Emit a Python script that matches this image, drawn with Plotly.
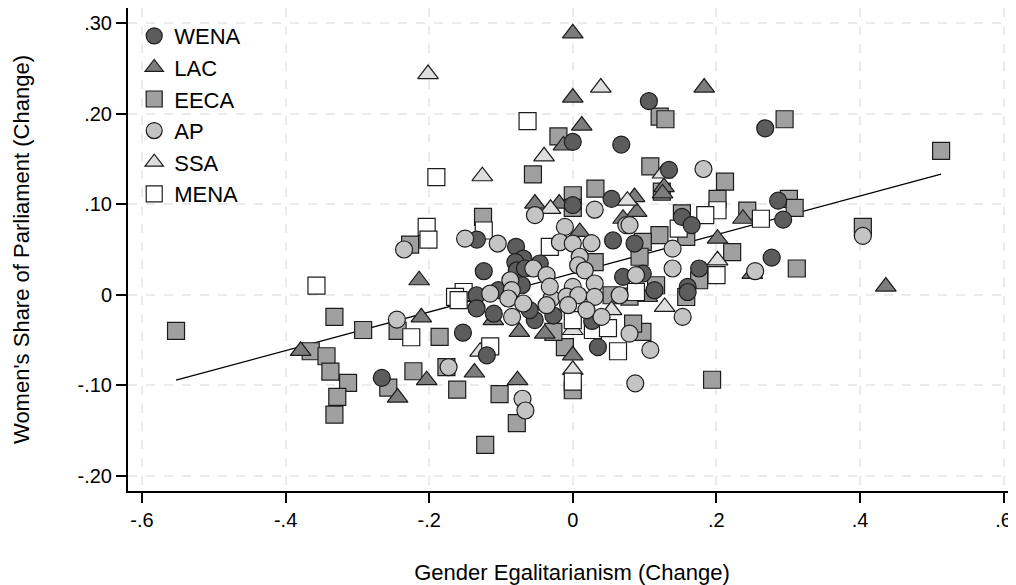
import plotly.graph_objects as go

# ---- data ----
wena_x = [0.106, 0.268, 0.000, 0.0675, 0.134, 0.054, 0.000, 0.152, 0.1655, 0.286, 0.293, 0.277,
          -0.1336, -0.124, -0.079, -0.069, -0.080, -0.078, -0.0666, -0.071, -0.134, -0.1036, 0.056,
          -0.046, 0.070, 0.086, 0.0975, 0.176, 0.160, 0.1138, 0.160, -0.153, -0.1197, -0.266, 0.035,
          0.027, -0.134, -0.110, -0.053, -0.027, -0.060]
wena_y = [0.214, 0.184, 0.169, 0.166, 0.138, 0.106, 0.099, 0.086, 0.077, 0.104, 0.083, 0.041,
          0.061, 0.026, 0.053, 0.040, 0.036, 0.027, 0.029, 0.0105, -0.0006, 0.005, 0.060,
          0.0345, 0.0197, 0.0566, 0.0234, 0.029, 0.0086, 0.005, 0.003, -0.042, -0.067, -0.092, -0.058,
          -0.029, -0.015, -0.021, -0.028, -0.023, -0.017]

lac_x = [0.000, 0.000, 0.183, 0.0125, -0.013, 0.127, 0.125, 0.086, 0.089, -0.019, -0.0527, 0.070,
         0.0097, 0.2016, 0.237, 0.250, 0.436, -0.214, -0.211, -0.379, -0.244, -0.2035, -0.137,
         -0.077, 0.000, -0.039, 0.104, -0.1106, -0.0745]
lac_y = [0.289, 0.218, 0.229, 0.187, 0.165, 0.119, 0.112, 0.108, 0.0915, 0.1008, 0.1008, 0.084,
         0.0694, 0.062, 0.084, 0.023, 0.009, 0.016, -0.025, -0.062, -0.1137, -0.0945, -0.086,
         -0.0945, -0.067, -0.043, -0.0025, -0.028, -0.041]

eeca_x = [0.121, 0.129, 0.295, -0.020, -0.0555, 0.108, 0.212, 0.0315, 0.000, 0.000, 0.124, 0.513,
          0.301, 0.309, 0.243, 0.404, 0.222, 0.312, 0.2016, 0.152, 0.158, 0.1207, 0.0975, 0.093,
          0.116, 0.176, 0.0305, 0.054, 0.158, 0.097, 0.084, 0.194, -0.011, -0.027, 0.000, -0.125,
          -0.2266, -0.5526, -0.332, -0.292, -0.244, -0.365, -0.343, -0.3376, -0.313, -0.328, -0.332,
          -0.257, -0.222, -0.1855, -0.176, -0.161, -0.102, -0.078, -0.122, 0.079]
eeca_y = [0.197, 0.194, 0.194, 0.175, 0.133, 0.142, 0.125, 0.1174, 0.110, 0.096, 0.114, 0.159,
          0.106, 0.096, 0.093, 0.075, 0.047, 0.029, 0.106, 0.090, 0.064, 0.0658, 0.0584, 0.042,
          0.0105, 0.016, 0.036, -0.0006, -0.0025, -0.041, -0.032, -0.094, -0.058, -0.041, -0.1056, 0.086,
          0.0555, -0.040, -0.0245, -0.039, -0.040, -0.0625, -0.068, -0.085, -0.0975, -0.113, -0.1325,
          -0.1026, -0.0846, -0.0466, -0.080, -0.105, -0.110, -0.142, -0.166, -0.002]

ap_x = [0.182, 0.404, 0.254, -0.235, -0.245, -0.150, -0.1045, -0.087, -0.115, -0.085, -0.0527, 0.0305,
        0.0745, -0.011, -0.018, 0.000, 0.026, 0.0097, 0.0074, 0.0167, -0.055, -0.0365, 0.000, 0.0305,
        0.139, 0.079, 0.088, 0.139, 0.040, 0.153, 0.079, 0.108, 0.087, -0.173, -0.070, -0.066, -0.0846,
        -0.0296, -0.0087, 0.0077, 0.0305, 0.0653, -0.0365, -0.0065, 0.019, -0.0898, -0.069, -0.032]
ap_y = [0.139, 0.065, 0.026, 0.050, -0.0275, 0.062, 0.0566, 0.016, 0.0013, 0.005, 0.088, 0.094,
        0.077, 0.075, 0.058, 0.0566, 0.057, 0.042, 0.0326, 0.027, 0.029, 0.0216, 0.0086, 0.0124,
        0.051, 0.077, 0.0216, 0.029, -0.0245, -0.0245, -0.043, -0.061, -0.098, -0.080, -0.115, -0.128, -0.0245,
        -0.004, -0.002, -0.0006, -0.0024, -0.0006, -0.0116, -0.0116, -0.017, -0.0042, -0.0097, 0.009]

ssa_x = [-0.2016, 0.039, -0.040, -0.126, 0.125, -0.031, 0.076, 0.2016, 0.128, 0.054, 0.000, 0.000, -0.129]
ssa_y = [0.244, 0.229, 0.153, 0.131, 0.134, 0.095, 0.104, 0.038, -0.0135, -0.017, -0.039, -0.083, -0.063]

mena_x = [-0.063, -0.190, -0.2035, -0.201, -0.357, -0.225, -0.124, -0.152, -0.164, -0.032, 0.1475,
          0.2016, 0.1845, 0.2002, 0.262, -0.159, -0.115, 0.000, 0.000, 0.028, 0.049, 0.063, 0.088]
mena_y = [0.192, 0.130, 0.075, 0.061, 0.010, -0.047, 0.071, 0.003, -0.0024, 0.053, 0.073,
          0.0934, 0.088, 0.0216, 0.084, -0.006, -0.057, -0.096, -0.028, -0.039, -0.037, -0.0625, 0.003]

# linear fit
FIT_INTERCEPT = 0.0236
FIT_SLOPE = 0.2137

x_ticks = [-0.6, -0.4, -0.2, 0, 0.2, 0.4, 0.6]
x_ticktext = ["-.6", "-.4", "-.2", "0", ".2", ".4", ".6"]
y_ticks = [-0.2, -0.1, 0, 0.1, 0.2, 0.3]
y_ticktext = ["-.20", "-.10", "0", ".10", ".20", ".30"]

FONT = "Liberation Sans, Arial, sans-serif"
OUTLINE = "#1c1c1c"

# (name, x, y, symbol, fill, size, legend rank) in drawing order
groups = [
    ("EECA", eeca_x, eeca_y, "square", "#a0a0a0", 17, 3),
    ("LAC", lac_x, lac_y, "triangle-up", "#7c7c7c", 18, 2),
    ("SSA", ssa_x, ssa_y, "triangle-up", "#dedede", 18, 5),
    ("MENA", mena_x, mena_y, "square", "#ffffff", 17, 6),
    ("WENA", wena_x, wena_y, "circle", "#5c5c5c", 17, 1),
    ("AP", ap_x, ap_y, "circle", "#c4c4c4", 17, 4),
]

fig = go.Figure()

all_x = eeca_x + lac_x + ssa_x + mena_x + wena_x + ap_x
fx = [min(all_x), max(all_x)]
fy = [FIT_INTERCEPT + FIT_SLOPE * v for v in fx]
fig.add_trace(go.Scatter(x=fx, y=fy, mode="lines", line=dict(color="black", width=1.3),
                         showlegend=False, hoverinfo="skip"))

for name, xs, ys, sym, col, sz, rank in groups:
    fig.add_trace(go.Scatter(
        x=xs, y=ys, mode="markers", name=name, legendrank=rank,
        marker=dict(symbol=sym, color=col, size=sz, line=dict(color=OUTLINE, width=1.2)),
    ))

axis_common = dict(
    showgrid=True, gridcolor="#ebebeb", griddash="dash", gridwidth=1.5,
    zeroline=False, showline=True, linecolor="black", linewidth=2,
    ticks="outside", ticklen=10, tickwidth=1.5, tickcolor="black",
    tickfont=dict(family=FONT, size=20, color="black"),
    automargin=False,
)

# page body adds an 8px offset, so the figure is sized 8px smaller
fig.update_layout(
    width=1008, height=577,
    margin=dict(l=120, r=0, t=0, b=94),
    paper_bgcolor="white", plot_bgcolor="white",
    font=dict(family=FONT, color="black"),
    showlegend=True,
    legend=dict(x=0.007, y=0.9855, xanchor="left", yanchor="top",
                font=dict(family=FONT, size=22, color="black"),
                bgcolor="rgba(255,255,255,0)", borderwidth=0),
    xaxis=dict(range=[-0.6195, 0.6173], tickvals=x_ticks, ticktext=x_ticktext,
               title=dict(text="Gender Egalitarianism (Change)", font=dict(family=FONT, size=22), standoff=38),
               **axis_common),
    yaxis=dict(range=[-0.217, 0.317], tickvals=y_ticks, ticktext=y_ticktext,
               title=dict(text="Women's Share of Parliament (Change)", font=dict(family=FONT, size=22), standoff=42),
               **axis_common),
)

fig.write_html("out.html")
